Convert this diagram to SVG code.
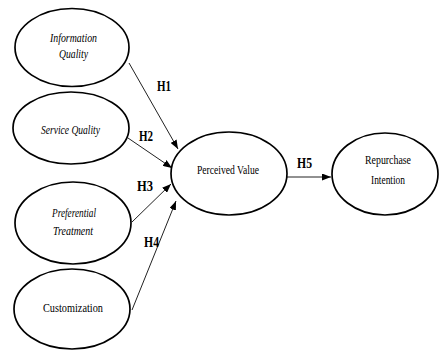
<svg xmlns="http://www.w3.org/2000/svg" width="439" height="352" viewBox="0 0 439 352">
<style>
.node ellipse{fill:#fff;stroke:#000;stroke-width:1.7}
.lbl{font-family:"Liberation Serif","Times New Roman",serif;font-size:13.5px;fill:#000;text-anchor:middle}
.it{font-style:italic}
.h{font-family:"Liberation Serif","Times New Roman",serif;font-size:15px;font-weight:bold;fill:#000}
.conn line{stroke:#222;stroke-width:1}
</style>
<defs>
<marker id="arr" markerUnits="userSpaceOnUse" markerWidth="9" markerHeight="7" refX="9" refY="3.5" orient="auto">
<path d="M0,0 L9,3.5 L0,7 z" fill="#000"/>
</marker>
</defs>
<rect width="439" height="352" fill="#fff"/>
<g id="connectors" class="conn">
<line x1="129" y1="63" x2="178" y2="149" marker-end="url(#arr)"/>
<line x1="128" y1="138" x2="172" y2="168" marker-end="url(#arr)"/>
<line x1="132" y1="222" x2="171" y2="184" marker-end="url(#arr)"/>
<line x1="132" y1="310" x2="176" y2="201" marker-end="url(#arr)"/>
<line x1="287" y1="177" x2="331" y2="177" marker-end="url(#arr)"/>
<text class="h" x="157" y="91" textLength="14" lengthAdjust="spacingAndGlyphs">H1</text>
<text class="h" x="139" y="141" textLength="14" lengthAdjust="spacingAndGlyphs">H2</text>
<text class="h" x="137" y="191" textLength="16" lengthAdjust="spacingAndGlyphs">H3</text>
<text class="h" x="144" y="247" textLength="15" lengthAdjust="spacingAndGlyphs">H4</text>
<text class="h" x="297" y="168" textLength="15" lengthAdjust="spacingAndGlyphs">H5</text>
</g>
<g id="information-quality" class="node">
<ellipse cx="72" cy="47.5" rx="57" ry="39"/>
<text class="lbl it" x="73.5" y="42" textLength="47" lengthAdjust="spacingAndGlyphs">Information</text>
<text class="lbl it" x="73.5" y="58" textLength="29" lengthAdjust="spacingAndGlyphs">Quality</text>
</g>
<g id="service-quality" class="node">
<ellipse cx="71" cy="128" rx="58" ry="36"/>
<text class="lbl it" x="70.5" y="134" textLength="59" lengthAdjust="spacingAndGlyphs">Service Quality</text>
</g>
<g id="preferential-treatment" class="node">
<ellipse cx="73" cy="223" rx="58" ry="41"/>
<text class="lbl it" x="74" y="217" textLength="44" lengthAdjust="spacingAndGlyphs">Preferential</text>
<text class="lbl it" x="73" y="235" textLength="40" lengthAdjust="spacingAndGlyphs">Treatment</text>
</g>
<g id="customization" class="node">
<ellipse cx="72" cy="309" rx="58" ry="40"/>
<text class="lbl" x="73" y="312" textLength="60" lengthAdjust="spacingAndGlyphs">Customization</text>
</g>
<g id="perceived-value" class="node">
<ellipse cx="229" cy="173.5" rx="58" ry="41.5"/>
<text class="lbl" x="228" y="174" textLength="62" lengthAdjust="spacingAndGlyphs">Perceived Value</text>
</g>
<g id="repurchase-intention" class="node">
<ellipse cx="385" cy="174" rx="53" ry="41"/>
<text class="lbl" x="388" y="164" textLength="46" lengthAdjust="spacingAndGlyphs">Repurchase</text>
<text class="lbl" x="388" y="184" textLength="34" lengthAdjust="spacingAndGlyphs">Intention</text>
</g>
</svg>
